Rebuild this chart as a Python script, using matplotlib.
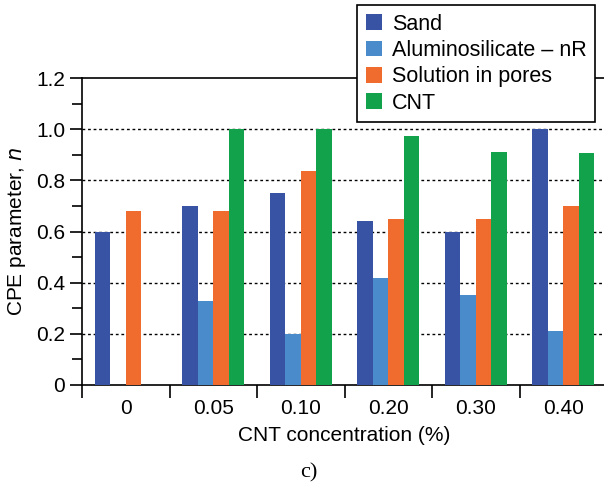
import matplotlib.pyplot as plt
import numpy as np

plt.rcParams['font.family'] = ['Liberation Sans', 'DejaVu Sans']

# Data
konsentrasi = ['0', '0.05', '0.10', '0.20', '0.30', '0.40']
sand = [0.60, 0.70, 0.75, 0.64, 0.60, 1.00]
alumino = [0.0, 0.33, 0.20, 0.42, 0.35, 0.21]
solution = [0.68, 0.68, 0.835, 0.65, 0.65, 0.70]
cnt = [0.0, 1.00, 1.00, 0.975, 0.91, 0.905]

labels = ['Sand', 'Aluminosilicate \u2013 nR', 'Solution in pores', 'CNT']
colors = ['#3953A4', '#4A8BCB', '#EF6C2E', '#12A24B']
series = [sand, alumino, solution, cnt]

fig = plt.figure(figsize=(6.04, 4.82), dpi=100)
ax = fig.add_axes([82 / 604, 97 / 482, 525 / 604, 307 / 482])

x = np.arange(len(konsentrasi))
w = 0.176
for i, (vals, lab, col) in enumerate(zip(series, labels, colors)):
    ax.bar(x + (i - 1.5) * w, vals, width=w, color=col, label=lab, zorder=3)

# Grid garis putus-putus
for yv in [0.2, 0.4, 0.6, 0.8, 1.0]:
    ax.axhline(yv, color='black', linestyle=(0, (2, 2)), linewidth=1.0, zorder=1)

ax.set_xlim(-0.5, 5.5)
ax.set_ylim(0, 1.2)
ax.set_yticks(np.arange(0, 1.21, 0.2))
ax.set_yticklabels(['0', '0.2', '0.4', '0.6', '0.8', '1.0', '1.2'])
ax.set_yticks(np.arange(0.1, 1.2, 0.2), minor=True)
ax.tick_params(axis='y', which='major', length=9, width=1.2, labelsize=15, pad=3)
ax.tick_params(axis='y', which='minor', length=7, width=1.2)

ax.set_xticks(np.arange(-0.5, 6.0, 1.0))
ax.set_xticklabels([])
ax.set_xticks(x, minor=True)
ax.set_xticklabels(konsentrasi, minor=True)
ax.tick_params(axis='x', which='major', length=9, width=1.2)
ax.tick_params(axis='x', which='minor', length=0, labelsize=15, pad=10)

for s in ['left', 'bottom', 'top']:
    ax.spines[s].set_linewidth(1.2)
ax.spines['right'].set_visible(False)

ax.set_ylabel('CPE parameter, $\\it{n}$', fontsize=15, labelpad=6)
ax.set_xlabel('CNT concentration (%)', fontsize=15, labelpad=6)

leg = ax.legend(loc='upper right', bbox_to_anchor=(595 / 604, 1 - 5 / 482),
                bbox_transform=fig.transFigure, fontsize=15.5, frameon=True,
                fancybox=False, edgecolor='black', framealpha=1,
                handlelength=0.74, handleheight=0.74, handletextpad=0.45,
                labelspacing=0.25, borderpad=0.4, borderaxespad=0)
leg.get_frame().set_linewidth(1.2)
leg.set_zorder(10)

fig.text(309 / 604, 1 - 473 / 482, 'c)', fontsize=16, family='Liberation Serif',
         ha='center', va='center')

fig.savefig('out.png', dpi=100)
